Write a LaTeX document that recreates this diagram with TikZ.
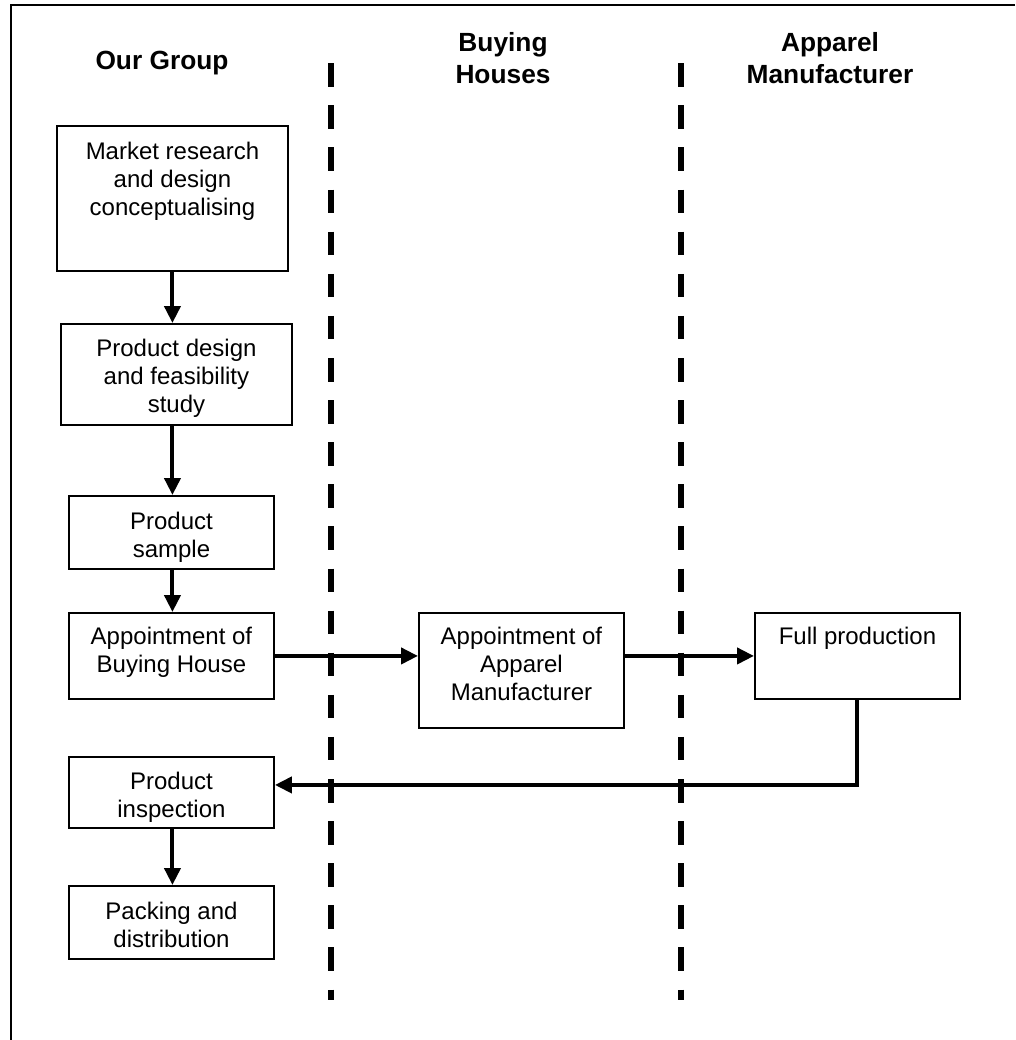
\documentclass[tikz,border=0pt]{standalone}
\usepackage{fontspec}
\setmainfont{Liberation Sans}
\usetikzlibrary{arrows.meta}
\newcommand\boxtxt[4]{\parbox[c][#2][t]{#1}{\centering\vspace*{#3}#4\par}}
\begin{document}
\begin{tikzpicture}[x=1pt,y=-1pt,
  box/.style={draw, line width=1.9pt, inner sep=0pt, anchor=north west, font=\fontsize{24}{28}\selectfont},
  hdr/.style={inner sep=0pt, anchor=base, font=\fontsize{26.3}{31.5}\selectfont\bfseries},
  arr/.style={line width=4pt, -{Triangle[length=17pt,width=16pt]}},
  lane/.style={line width=6.5pt, dash pattern=on 23.5pt off 18.6pt},
  frame/.style={line width=2pt}]
\useasboundingbox (0,0) rectangle (1015,1040);
% frame
\draw[frame] (10.5,1040) -- (10.5,5.5) -- (1015,5.5);
% headers
\node[hdr] (h1) at (162,70) {Our Group};
\node[hdr] (h2) at (503,51.7) {\parbox[t]{250pt}{\centering\strut Buying\\\strut Houses}};
\node[hdr] (h3) at (830,52) {\parbox[t]{250pt}{\centering\strut Apparel\\\strut Manufacturer}};
% lane separators
\coordinate (l1t) at (331,63.3); \coordinate (l1b) at (331,1000);
\coordinate (l2t) at (681,63.3); \coordinate (l2b) at (681,1000);
\draw[lane] (l1t) -- (l1b);
\draw[lane] (l2t) -- (l2b);
% boxes
\node[box] (b1) at (56,125) {\boxtxt{231pt}{145pt}{13.7pt}{\strut Market research\\\strut and design\\\strut conceptualising}};
\node[box] (b2) at (60,323) {\boxtxt{231pt}{101pt}{13.1pt}{\strut Product design\\\strut and feasibility\\\strut study}};
\node[box] (b3) at (68,495) {\boxtxt{205pt}{73pt}{13.7pt}{\strut Product\\\strut sample}};
\node[box] (b4) at (68,612) {\boxtxt{205pt}{86pt}{11.7pt}{\strut Appointment of\\\strut Buying House}};
\node[box] (b5) at (418,612) {\boxtxt{205pt}{115pt}{12.4pt}{\strut Appointment of\\\strut Apparel\\\strut Manufacturer}};
\node[box] (b6) at (754,612) {\boxtxt{205pt}{86pt}{11.7pt}{\strut Full production}};
\node[box] (b7) at (68,756) {\boxtxt{205pt}{71pt}{12.7pt}{\strut Product\\\strut inspection}};
\node[box] (b8) at (68,885) {\boxtxt{205pt}{73pt}{13.7pt}{\strut Packing and\\\strut distribution}};
% connectors
\draw[arr] (b1.south) -- (b1.south |- b2.north);
\draw[arr] (b2.south -| b1.south) -- (b3.north -| b1.south);
\draw[arr] (b3.south -| b1.south) -- (b4.north -| b1.south);
\draw[arr] (b4.east) -- (b4.east -| b5.west);
\draw[arr] (b5.east |- b4.east) -- (b6.west);
\draw[arr] (b6.south) |- ([yshift=7.5pt]b7.east);
\draw[arr] (b7.south -| b1.south) -- (b8.north -| b1.south);
\end{tikzpicture}
\end{document}
